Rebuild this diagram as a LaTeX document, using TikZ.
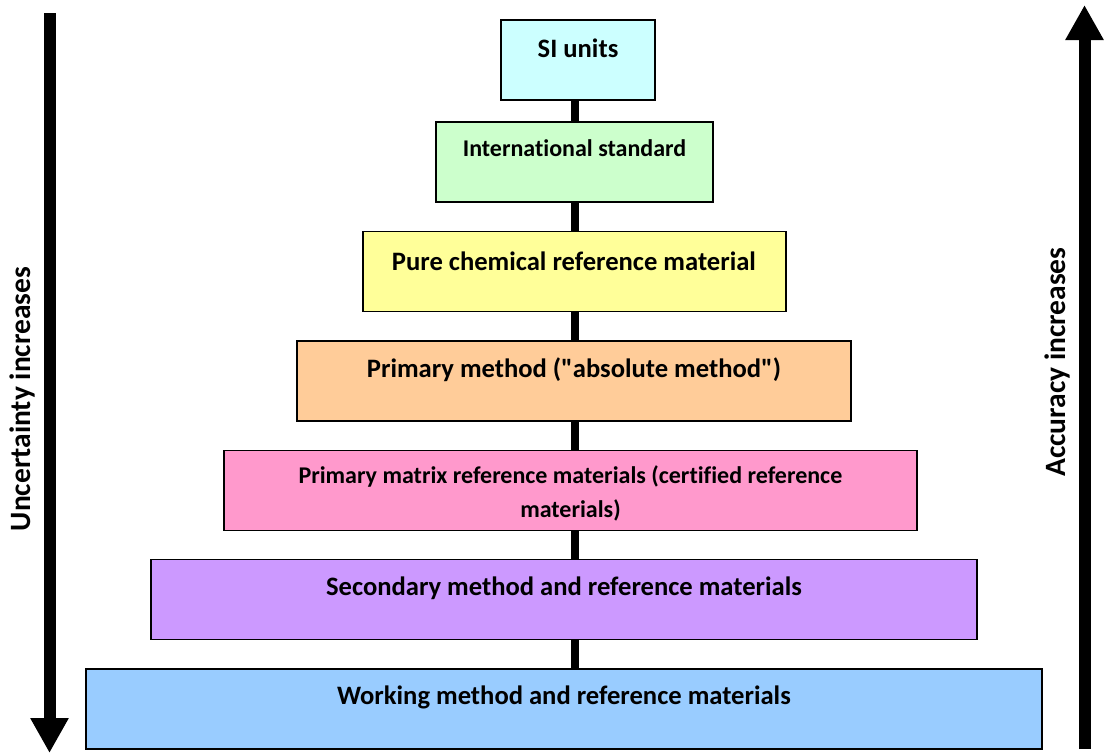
\documentclass[tikz,border=0pt]{standalone}
\usepackage{fontspec}
\setmainfont[Ligatures={NoCommon}]{Carlito}
\usetikzlibrary{arrows.meta}
\definecolor{cSI}{HTML}{CCFFFF}
\definecolor{cIS}{HTML}{CCFFCC}
\definecolor{cPC}{HTML}{FFFF99}
\definecolor{cPM}{HTML}{FFCC99}
\definecolor{cMX}{HTML}{FF99CC}
\definecolor{cSE}{HTML}{CC99FF}
\definecolor{cWO}{HTML}{99CCFF}
\tikzset{
  box/.style={draw=black, line width=1.5pt, inner sep=0pt, minimum height=80pt},
  lbl/.style={font=\bfseries\fontsize{26.6}{34}\selectfont, align=center, inner sep=0pt},
  lblsmall/.style={font=\bfseries\fontsize{24}{34}\selectfont, align=center, inner sep=0pt},
  link/.style={line width=8pt, black},
  bigarrow/.style={line width=12pt, -{Triangle[length=35pt,width=36pt]}},
  side/.style={font=\bfseries\fontsize{29.5}{34}\selectfont, rotate=90, inner sep=0pt}
}
\begin{document}
\begin{tikzpicture}[x=1pt,y=-1pt]
\useasboundingbox (0,0) rectangle (1107,753);
\node[box, fill=cSI, minimum width=154pt] (b1) at (578,60) {};
\node[box, fill=cIS, minimum width=277pt] (b2) at (574.5,162) {};
\node[box, fill=cPC, minimum width=423pt] (b3) at (574.5,271.5) {};
\node[box, fill=cPM, minimum width=554pt] (b4) at (574,381) {};
\node[box, fill=cMX, minimum width=693pt] (b5) at (570.5,490.5) {};
\node[box, fill=cSE, minimum width=826pt] (b6) at (564,599.5) {};
\node[box, fill=cWO, minimum width=956pt] (b7) at (564,709) {};
\coordinate (c1) at (575,100);
\coordinate (c2) at (575,122);
\coordinate (c3) at (575,202);
\coordinate (c4) at (575,232);
\coordinate (c5) at (575,311);
\coordinate (c6) at (575,341);
\coordinate (c7) at (575,421);
\coordinate (c8) at (575,451);
\coordinate (c9) at (575,530);
\coordinate (c10) at (575,560);
\coordinate (c11) at (575,639);
\coordinate (c12) at (575,669);
\draw[link] (c1) -- (c2);
\draw[link] (c3) -- (c4);
\draw[link] (c5) -- (c6);
\draw[link] (c7) -- (c8);
\draw[link] (c9) -- (c10);
\draw[link] (c11) -- (c12);
% texts
\node[lbl] (t1) at (578,48) {SI units};
\node[lblsmall] (t2) at (574.5,148) {International standard};
\node[lbl] (t3) at (574,261) {Pure chemical reference material};
\node[lbl] (t4) at (574,370) {Primary method (\textquotedbl absolute method\textquotedbl)};
\node[lblsmall] (t5) at (570.5,493) {Primary matrix reference materials (certified reference\\materials)};
\node[lbl] (t6) at (564,588) {Secondary method and reference materials};
\node[lbl] (t7) at (564,697) {Working method and reference materials};
% side arrows
\coordinate (la1) at (49.5,13);
\coordinate (la2) at (49.5,753);
\draw[bigarrow] (la1) -- (la2);
\coordinate (ra1) at (1084.5,749);
\coordinate (ra2) at (1084.5,5);
\draw[bigarrow] (ra1) -- (ra2);
\node[side] (sl) at (22,399) {Uncertainty increases};
\node[side] (sr) at (1057,362) {Accuracy increases};
\end{tikzpicture}
\end{document}
